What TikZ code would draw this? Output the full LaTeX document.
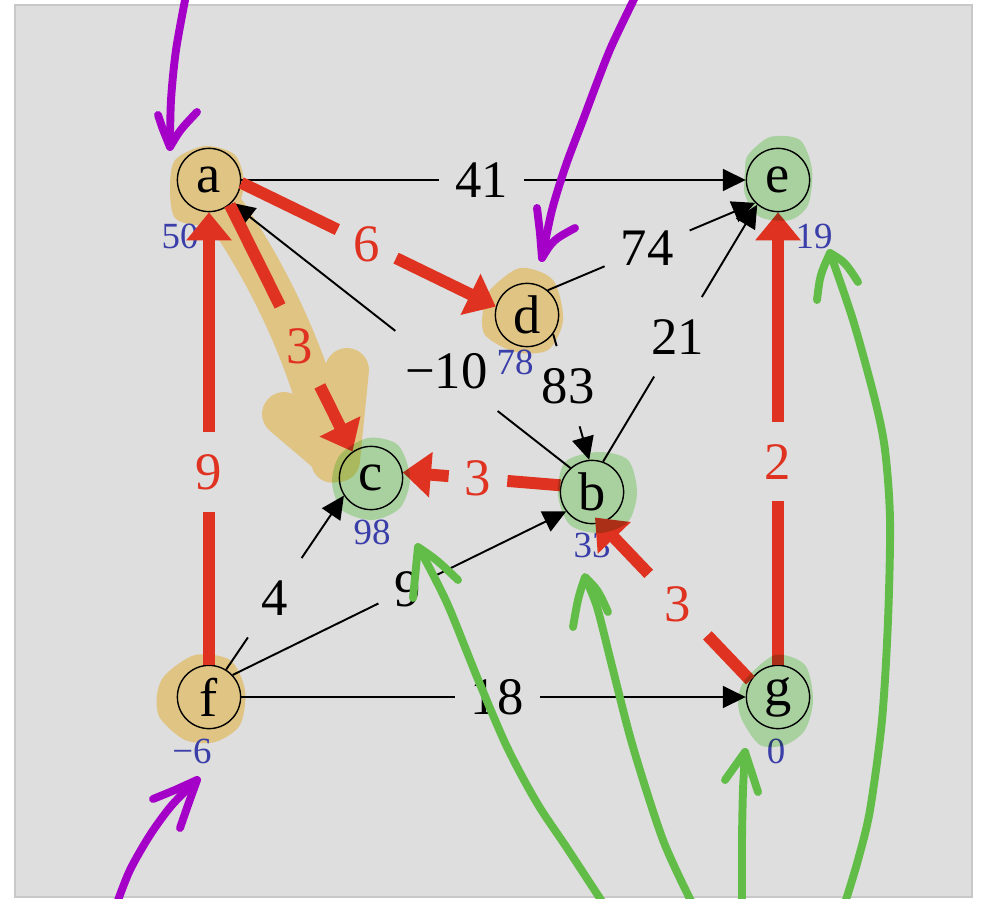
\documentclass[tikz,border=0pt]{standalone}
\usepackage{fontspec}
\setmainfont{Liberation Serif}
\usetikzlibrary{arrows.meta}

\definecolor{panelgray}{RGB}{222,222,222}
\definecolor{panelline}{RGB}{200,200,200}
\definecolor{treered}{RGB}{224,50,32}
\definecolor{distblue}{RGB}{58,62,168}
\definecolor{donetan}{RGB}{224,196,132}
\definecolor{donegreen}{RGB}{194,241,183}
\definecolor{penpurple}{RGB}{165,0,200}
\definecolor{pengreen}{RGB}{98,189,72}

\begin{document}
\begin{tikzpicture}[x=0.02cm, y=-0.02cm,
    vertex/.style={draw, circle, line width=0.8pt, minimum size=36pt, inner sep=0pt, font=\fontsize{31}{31}\selectfont},
    dist/.style={text=distblue, inner sep=0pt, font=\fontsize{21}{21}\selectfont},
    weight/.style={inner xsep=9pt, inner ysep=12.5pt, font=\fontsize{30}{30}\selectfont},
    treeweight/.style={weight, text=treered},
    edge/.style={line width=1.1pt},
    edgetip/.style={edge, -{Triangle[length=13pt,width=12.5pt]}},
    tree/.style={line width=6.8pt, treered},
    treetip/.style={tree, -{Triangle[length=16pt,width=25pt]}},
    pen/.style={line width=4.5pt, line cap=round, line join=round},
    greenmark/.style={fill=donegreen, blend mode=multiply}]
\useasboundingbox (0,0) rectangle (982,898);
\fill[white] (0,0) rectangle (982,898);
\filldraw[fill=panelgray, draw=panelline, line width=0.6pt] (15,5) rectangle (972,897);

\fill[donetan] plot[smooth cycle] coordinates {(175,160) (205,146) (235,155) (244,185) (232,215) (200,225) (175,218) (170,190)};
\fill[donetan] plot[smooth cycle] coordinates {(490,290) (520,268) (553,280) (563,320) (548,350) (515,352) (485,335) (483,310)};
\fill[donetan] plot[smooth cycle] coordinates {(165,675) (195,655) (230,660) (245,690) (240,725) (215,742) (185,740) (160,718) (157,695)};
\draw[donetan, line width=23.5pt, line cap=round] (211,192) .. controls (265,265) and (312,360) .. (332,462);
\draw[donetan, line width=25pt, line cap=round, line join=round] (284,414) -- (338,460) -- (347,370);

\node[vertex] (a) at (209,180) {a};
\node[vertex] (e) at (778,180) {e};
\node[vertex] (d) at (527,315) {d};
\node[vertex] (c) at (371,478) {c};
\node[vertex] (b) at (592,492) {b};
\node[vertex] (f) at (209,697) {f};
\node[vertex] (g) at (778,697) {g};

\node[dist] (da) at ([shift={(-29,56)}]a.center) {50};
\node[dist] (de) at ([shift={(36,56)}]e.center) {19};
\node[dist] (dd) at ([shift={(-12,47)}]d.center) {78};
\node[dist] (dc) at ([shift={(1,54)}]c.center) {98};
\node[dist] (db) at ([shift={(0,53)}]b.center) {33};
\node[dist] (df) at ([shift={(-17,54)}]f.center) {−6};
\node[dist] (dg) at ([shift={(-2,54)}]g.center) {0};

\path (a.0) -- node[weight, pos=.477] (wae) {41} (e.180);
\draw[edge] (a.0) -- (wae);
\draw[edgetip] (wae) -- (e.180);
\path (d.50) -- node[weight, pos=.479] (wde) {74} (e.225);
\draw[edge] (d.50) -- (wde);
\draw[edgetip] (wde) -- (e.225);
\path (b.70) -- node[weight, pos=.486] (wbe) {21} (e.230);
\draw[edge] (b.70) -- (wbe);
\draw[edgetip] (wbe) -- (e.230);
\path (b.132) -- node[weight, pos=.366] (wba) {−10} (a.-45);
\draw[edge] (b.132) -- (wba);
\draw[edgetip] (wba) -- (a.-45);
\path (d.-36) -- node[weight, pos=.415] (wdb) {83} (b.95);
\draw[edge] (d.-36) -- (wdb);
\draw[edgetip] (wdb) -- (b.95);
\path (f.58) -- node[weight, pos=.413] (wfc) {4} (c.213);
\draw[edge] (f.58) -- (wfc);
\draw[edgetip] (wfc) -- (c.213);
\path (f.43) -- node[weight, pos=.525] (wfb) {9} (b.217);
\draw[edge] (f.43) -- (wfb);
\draw[edgetip] (wfb) -- (b.217);
\path (f.0) -- node[weight, pos=.507] (wfg) {18} (g.180);
\draw[edge] (f.0) -- (wfg);
\draw[edgetip] (wfg) -- (g.180);

\path (f.90) -- node[treeweight, pos=.426] (tfa) {9} (a.-90);
\draw[tree] (f.90) -- (tfa);
\draw[treetip] (tfa) -- (a.-90);
\path (a.-5) -- node[treeweight, pos=.493] (tad) {6} (d.165);
\draw[tree] (a.-5) -- (tad);
\draw[treetip] (tad) -- (d.165);
\path (a.-50) -- node[treeweight, pos=.572] (tac) {3} (c.125);
\draw[tree] (a.-50) -- (tac);
\draw[treetip] (tac) -- (c.125);
\path (b.168) -- node[treeweight, pos=.523] (tbc) {3} (c.10);
\draw[tree] (b.168) -- (tbc);
\draw[treetip] (tbc) -- (c.10);
\path (g.149) -- node[treeweight, pos=.482] (tgb) {3} (b.-75);
\draw[tree] (g.149) -- (tgb);
\draw[treetip, shorten >=-4.5pt] (tgb) -- (b.-75);
\path (g.90) -- node[treeweight, pos=.449] (tge) {2} (e.-90);
\draw[tree] (g.90) -- (tge);
\draw[treetip] (tge) -- (e.-90);

\fill[greenmark] plot[smooth cycle] coordinates {(748,155) (770,137) (800,140) (812,170) (808,205) (790,220) (760,217) (745,195) (745,170)};
\fill[greenmark] plot[smooth cycle] coordinates {(340,455) (368,438) (398,445) (410,478) (400,508) (372,520) (342,510) (332,482)};
\fill[greenmark] plot[smooth cycle] coordinates {(565,462) (598,452) (628,460) (637,492) (628,522) (600,533) (570,525) (558,495)};
\fill[greenmark] plot[smooth cycle] coordinates {(745,680) (775,655) (805,665) (813,700) (805,730) (785,745) (760,745) (742,720) (738,700)};

\draw[pen, penpurple] plot[smooth] coordinates {(186,-5) (176,50) (171,100) (170,146)};
\draw[pen, penpurple] (158,115) -- (162,127) -- (170,147) .. controls (180,130) .. (197,112);
\draw[pen, penpurple] plot[smooth] coordinates {(636,-5) (612,45) (598,80) (583,120) (566,165) (552,210) (542,258)};
\draw[pen, penpurple] (537,208) -- (540,233) -- (542,258) .. controls (553,240) .. (575,228);
\draw[pen, penpurple] plot[smooth] coordinates {(117,903) (130,870) (150,835) (172,805) (197,780)};
\draw[pen, penpurple] (153,799) -- (175,790) -- (197,780) -- (188,805) -- (180,828);

\draw[pen, pengreen] plot[smooth] coordinates {(603,903) (567,848) (537,803) (507,747) (477,677) (447,603) (420,550)};
\draw[pen, pengreen] (413,598) -- (418,547) .. controls (437,560) .. (458,580);
\draw[pen, pengreen] plot[smooth] coordinates {(692,903) (663,840) (633,747) (613,670) (597,607) (585,578)};
\draw[pen, pengreen] (573,627) .. controls (578,598) .. (585,577) .. controls (598,590) .. (608,612);
\draw[pen, pengreen] plot[smooth] coordinates {(742,903) (742,840) (743,790) (745,752)};
\draw[pen, pengreen] (725,780) -- (745,752) -- (758,792);
\draw[pen, pengreen] plot[smooth] coordinates {(845,903) (858,860) (870,810) (882,720) (888,620) (890,520) (885,450) (875,400) (853,320) (830,253)};
\draw[pen, pengreen] (817,300) .. controls (820,275) .. (830,253) .. controls (845,262) .. (858,282);
\end{tikzpicture}
\end{document}
